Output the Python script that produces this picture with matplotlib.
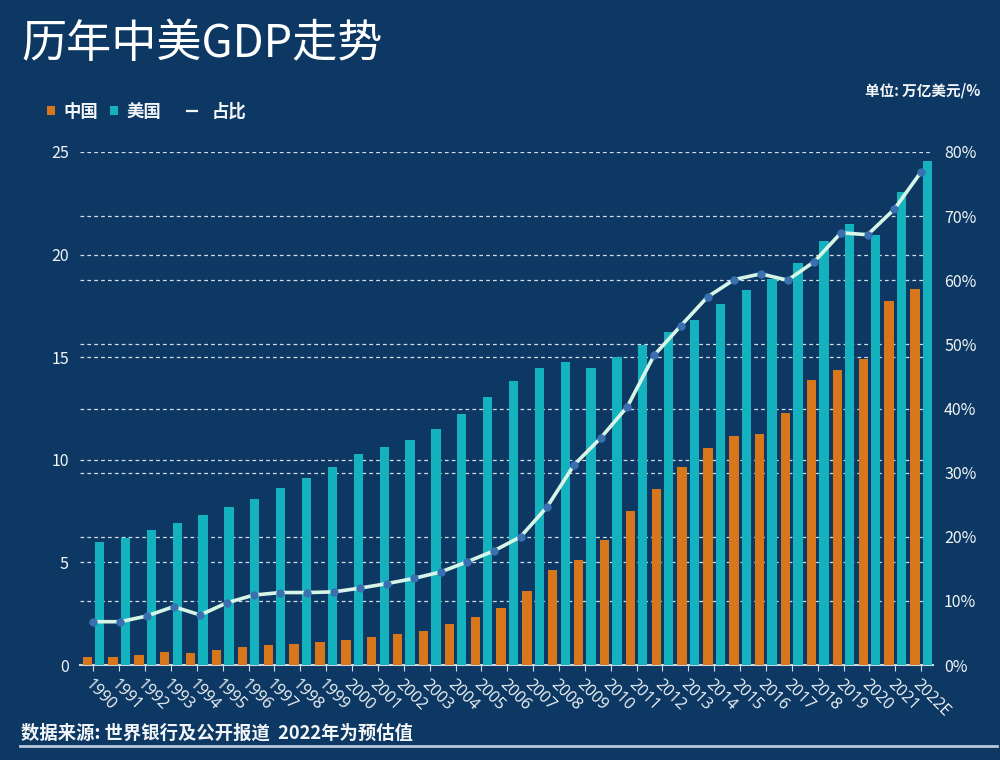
import matplotlib
matplotlib.use('Agg')
import matplotlib.pyplot as plt
import numpy as np
from matplotlib.patches import Patch
from matplotlib.lines import Line2D

years = ['1990', '1991', '1992', '1993', '1994', '1995', '1996', '1997', '1998', '1999',
         '2000', '2001', '2002', '2003', '2004', '2005', '2006', '2007', '2008', '2009',
         '2010', '2011', '2012', '2013', '2014', '2015', '2016', '2017', '2018', '2019',
         '2020', '2021', '2022E']
china = [0.41, 0.41, 0.50, 0.62, 0.57, 0.75, 0.87, 0.96, 1.03, 1.11,
         1.22, 1.35, 1.50, 1.67, 1.98, 2.32, 2.78, 3.60, 4.63, 5.12,
         6.08, 7.52, 8.58, 9.65, 10.57, 11.16, 11.26, 12.28, 13.89, 14.38,
         14.91, 17.74, 18.32]
usa = [5.99, 6.19, 6.56, 6.90, 7.31, 7.70, 8.09, 8.63, 9.11, 9.66,
       10.28, 10.62, 10.96, 11.50, 12.23, 13.08, 13.86, 14.49, 14.75, 14.49,
       15.02, 15.60, 16.23, 16.81, 17.59, 18.27, 18.80, 19.58, 20.66, 21.48,
       20.95, 23.06, 24.56]
ratio = [6.75, 6.75, 7.64, 9.1, 7.8, 9.7, 10.9, 11.3, 11.3, 11.4,
         12.0, 12.7, 13.5, 14.5, 16.1, 17.8, 20.0, 24.7, 31.2, 35.4,
         40.3, 48.3, 52.9, 57.4, 60.1, 61.0, 60.0, 62.9, 67.4, 67.1,
         71.1, 76.9]
left_ticks = [0, 5, 10, 15, 20, 25]
right_ticks = [0, 10, 20, 30, 40, 50, 60, 70, 80]

plt.rcParams['font.family'] = ['Noto Sans CJK SC', 'DejaVu Sans']

BG = '#0c3863'
ORANGE = '#d7761b'
TEAL = '#14b2bf'
LINEC = '#d6f5e6'
MARK = '#3a70b0'
TXT = '#f2f5f8'
GRID = '#d5dde6'

fig = plt.figure(figsize=(10, 7.6), dpi=100, facecolor=BG)
ax = fig.add_axes([0.08, 0.125, 0.853, 0.675])
ax.set_facecolor(BG)

x = np.arange(len(years))
ax.bar(x - 0.24, china, 0.36, color=ORANGE, zorder=3, label='中国')
ax.bar(x + 0.24, usa, 0.36, color=TEAL, zorder=3, label='美国')
ax.set_xlim(-0.52, len(years) - 0.54)
ax.set_ylim(0, 25)
ax.set_yticks(left_ticks)
ax.set_yticklabels([str(v) for v in left_ticks], fontsize=11.5, color=TXT)
# gridlines for the right axis drawn on the left axis (behind bars)
ax.set_yticks([v * 25 / 80 for v in right_ticks], minor=True)
ax.grid(axis='y', which='both', linestyle=(0, (3, 2.5)), color=GRID, linewidth=0.9, zorder=0)
ax.set_axisbelow(True)
ax.tick_params(axis='y', which='both', length=0, pad=8)
ax.set_xticks(x)
ax.set_xticklabels(years, rotation=-45, ha='left', va='top', rotation_mode='anchor',
                   fontsize=11.5, color=TXT, family=['Open Sans', 'DejaVu Sans'])
ax.tick_params(axis='x', length=4, color=GRID, pad=4)
for s in ['top', 'right', 'left']:
    ax.spines[s].set_visible(False)
ax.spines['bottom'].set_color('#c9d6e4')
ax.spines['bottom'].set_linewidth(1.5)

ax2 = ax.twinx()
ax2.set_ylim(0, 80)
ax2.set_yticks(right_ticks)
ax2.set_yticklabels([f'{v}%' for v in right_ticks], fontsize=11.5, color=TXT)
ax2.tick_params(axis='y', length=0, pad=8)
for s in ax2.spines.values():
    s.set_visible(False)
xr = np.linspace(0, len(years) - 1, len(ratio))
ax2.plot(xr, ratio, color=LINEC, lw=2.6, marker='o', ms=5, mfc=MARK, mec=MARK,
         zorder=5, solid_capstyle='round')

fig.text(0.021, 1 - 44 / 760, '历年中美GDP走势', fontsize=32.5, color='white', va='center', ha='left')
fig.text(0.98, 1 - 90 / 760, '单位: 万亿美元/%', fontsize=10.5, color=TXT, va='center', ha='right',
         fontweight='bold')

leg_y = 1 - 112 / 760
handles = [Patch(facecolor=ORANGE), Patch(facecolor=TEAL)]
leg1 = fig.legend(handles, ['中国', '美国'], loc='center left',
                  bbox_to_anchor=(0.047, leg_y), ncol=2, frameon=False, borderpad=0,
                  borderaxespad=0, handlelength=0.45, handleheight=0.45, handletextpad=0.5,
                  columnspacing=0.7, prop={'size': 12.5, 'weight': 'bold'})
for t in leg1.get_texts():
    t.set_color(TXT)
leg2 = fig.legend([Line2D([], [], color=TXT, lw=1.6)], ['占比'], loc='center left',
                  bbox_to_anchor=(0.187, leg_y), frameon=False, borderpad=0,
                  borderaxespad=0, handlelength=0.6, handletextpad=0.8,
                  prop={'size': 12.5, 'weight': 'bold'})
for t in leg2.get_texts():
    t.set_color(TXT)

fig.text(0.021, 1 - 733 / 760, '数据来源: 世界银行及公开报道  2022年为预估值', fontsize=13.2,
         color=TXT, va='center', ha='left', fontweight='bold')
fig.add_artist(Line2D([0.02, 0.997], [1 - 746 / 760] * 2, transform=fig.transFigure,
                      color='#b9c9dc', lw=2))

fig.savefig('out.png', dpi=100, facecolor=BG)
